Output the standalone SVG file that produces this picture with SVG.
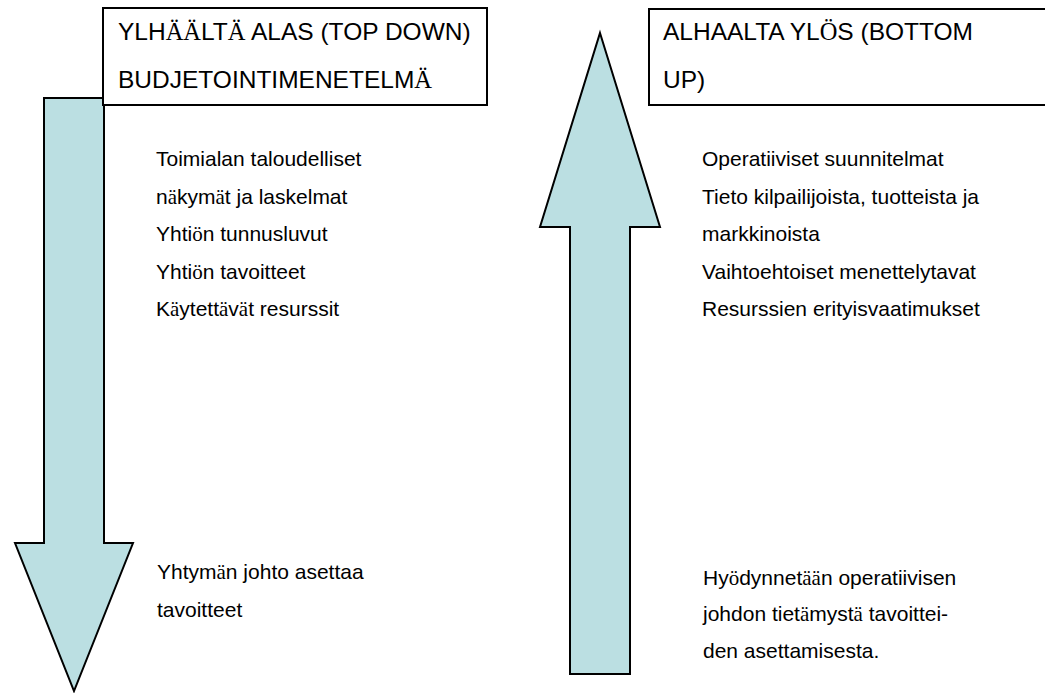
<svg xmlns="http://www.w3.org/2000/svg" width="1045" height="693" viewBox="0 0 1045 693">
  <style>
    .arrow { fill: #bbdfe2; stroke: #000; stroke-width: 2; stroke-linejoin: miter; }
    .box { fill: #fff; stroke: #000; stroke-width: 2; }
    .title { font-family: "Liberation Sans", Arial, sans-serif; font-size: 24.5px; fill: #000; }
    .item { font-family: "Liberation Sans", Arial, sans-serif; font-size: 21px; fill: #000; }
    .s { font-family: "Liberation Serif", "Times New Roman", serif; }
  </style>

  <!-- arrows -->
  <g id="connectors">
    <polygon id="arrow-down" class="arrow" points="44,98 104,98 104,543 133,543 74,691 15,543 44,543"/>
    <polygon id="arrow-up" class="arrow" points="600,33 660,227 630,227 630,674 570,674 570,227 540,227"/>
  </g>

  <!-- top-down heading -->
  <g id="node-topdown">
    <rect class="box" x="103" y="8" width="384" height="97"/>
    <text class="title" x="118" y="40">YLH<tspan class="s">ÄÄ</tspan>LT<tspan class="s">Ä</tspan> ALAS (TOP DOWN)</text>
    <text class="title" x="118" y="88">BUDJETOINTIMENETELM<tspan class="s">Ä</tspan></text>
  </g>

  <!-- bottom-up heading -->
  <g id="node-bottomup">
    <rect class="box" x="649" y="9" width="410" height="96"/>
    <text class="title" x="663" y="40">ALHAALTA YL<tspan class="s">Ö</tspan>S (BOTTOM</text>
    <text class="title" x="663" y="88">UP)</text>
  </g>

  <!-- top-down inputs -->
  <g id="node-topdown-inputs">
    <text class="item" x="156" y="166">Toimialan taloudelliset</text>
    <text class="item" x="156" y="204">n<tspan class="s">ä</tspan>kym<tspan class="s">ä</tspan>t ja laskelmat</text>
    <text class="item" x="156" y="241">Yhti<tspan class="s">ö</tspan>n tunnusluvut</text>
    <text class="item" x="156" y="279">Yhti<tspan class="s">ö</tspan>n tavoitteet</text>
    <text class="item" x="156" y="316">K<tspan class="s">ä</tspan>ytett<tspan class="s">ä</tspan>v<tspan class="s">ä</tspan>t resurssit</text>
  </g>

  <!-- bottom-up inputs -->
  <g id="node-bottomup-inputs">
    <text class="item" x="702" y="166">Operatiiviset suunnitelmat</text>
    <text class="item" x="702" y="204">Tieto kilpailijoista, tuotteista ja</text>
    <text class="item" x="702" y="241">markkinoista</text>
    <text class="item" x="702" y="279">Vaihtoehtoiset menettelytavat</text>
    <text class="item" x="702" y="316">Resurssien erityisvaatimukset</text>
  </g>

  <!-- top-down outcome -->
  <g id="node-topdown-result">
    <text class="item" x="157" y="579">Yhtym<tspan class="s">ä</tspan>n johto asettaa</text>
    <text class="item" x="157" y="617">tavoitteet</text>
  </g>

  <!-- bottom-up outcome -->
  <g id="node-bottomup-result">
    <text class="item" x="703" y="585">Hy<tspan class="s">ö</tspan>dynnet<tspan class="s">ää</tspan>n operatiivisen</text>
    <text class="item" x="703" y="621">johdon tiet<tspan class="s">ä</tspan>myst<tspan class="s">ä</tspan> tavoittei-</text>
    <text class="item" x="703" y="658">den asettamisesta.</text>
  </g>
</svg>
